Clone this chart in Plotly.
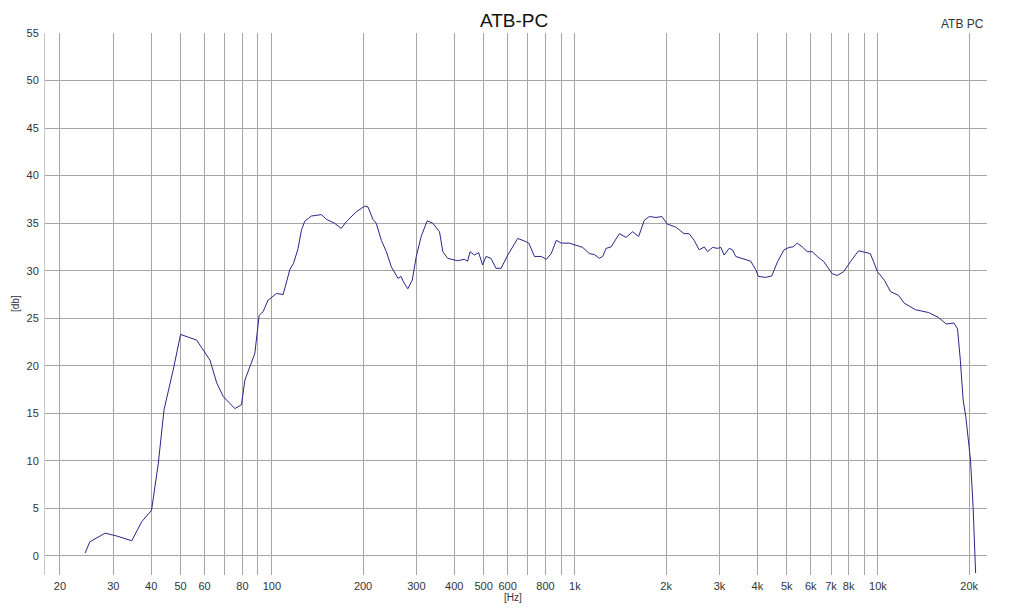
import plotly.graph_objects as go

freq_hz = [24.2, 25.1, 28.2, 30.8, 34.5, 37.2, 40.1, 42.2, 44.1, 47.3, 50.0, 56.5, 62.5, 65.8, 69.2,
           75.5, 79.4, 81.5, 87.9, 90.8, 93.6, 97.2, 103.6, 109, 114.6, 118, 122, 125.3, 128.4, 135,
           145.8, 151.5, 161, 169.5, 176, 190, 202.6, 207.7, 215.6, 221, 229.8, 238.7, 248, 260.8,
           267, 272, 281, 290.6, 299.7, 311, 325.6, 339.8, 357.5, 366.7, 380.7, 410.5, 431.6, 442.7,
           450.9, 466, 481.4, 496, 509, 528.7, 549.4, 570.7, 600.7, 647.9, 690.6, 704.7, 735.6, 774,
           804.5, 835.5, 868.4, 902, 960, 1035, 1061, 1116, 1159, 1204, 1235, 1267, 1316, 1402, 1475,
           1551, 1623, 1694, 1760, 1851, 1937, 2018, 2150, 2292, 2381, 2474, 2571, 2672, 2740, 2846,
           2956, 3031, 3108, 3229, 3311, 3395, 3570, 3805, 3953, 4033, 4264, 4463, 4662, 4900, 5091,
           5246, 5418, 5628, 5846, 6072, 6307, 6631, 7057, 7331, 7711, 8107, 8633, 8967, 9435, 9674,
           9960, 10500, 11000, 11700, 12200, 13300, 14700, 15800, 16800, 17800, 18300, 18700, 19100,
           19500, 20200, 20600, 20900, 21000]
level_db = [0.3, 1.5, 2.4, 2.1, 1.6, 3.6, 4.8, 9.7, 15.4, 19.6, 23.3, 22.7, 20.6, 18.2, 16.75,
            15.5, 15.9, 18.5, 21.3, 25.3, 25.7, 26.9, 27.6, 27.5, 30.1, 30.8, 32.3, 34.3, 35.2, 35.75,
            35.9, 35.4, 35.0, 34.45, 35.15, 36.2, 36.8, 36.7, 35.4, 35.0, 33.2, 32.0, 30.4, 29.2,
            29.4, 28.8, 28.1, 29.0, 31.5, 33.6, 35.25, 35.0, 34.1, 32.0, 31.3, 31.05, 31.2, 31.0,
            32.0, 31.65, 31.9, 30.6, 31.5, 31.3, 30.25, 30.25, 31.65, 33.4, 33.05, 32.9, 31.5, 31.5,
            31.2, 31.8, 33.2, 32.9, 32.9, 32.6, 32.45, 31.8, 31.7, 31.3, 31.5, 32.35, 32.5, 33.9, 33.5,
            34.1, 33.6, 35.3, 35.7, 35.6, 35.7, 34.9, 34.6, 33.9, 33.9, 33.2, 32.2, 32.5, 32.0, 32.45,
            32.35, 32.45, 31.65, 32.35, 32.2, 31.5, 31.3, 31.0, 30.1, 29.4, 29.3, 29.45, 30.95, 32.2, 32.45,
            32.5, 32.9, 32.5, 32.0, 32.0, 31.5, 30.95, 29.7, 29.5, 29.9, 30.95, 32.1, 32.0, 31.8, 30.95,
            29.9, 29.0, 27.8, 27.4, 26.6, 25.9, 25.6, 25.1, 24.4, 24.5, 23.9, 20.6, 16.4,
            14.6, 10.1, 5.2, 0.3, -1.8]

x_gridvals = [20, 30, 40, 50, 60, 70, 80, 90, 100, 200, 300, 400, 500, 600, 700, 800, 900,
              1000, 2000, 3000, 4000, 5000, 6000, 7000, 8000, 9000, 10000, 20000]
x_ticktext = ["20", "30", "40", "50", "60", "", "80", "", "100", "200", "300", "400", "500", "600",
              "", "800", "", "1k", "2k", "3k", "4k", "5k", "6k", "7k", "8k", "", "10k", "20k"]
y_tickvals = [0, 5, 10, 15, 20, 25, 30, 35, 40, 45, 50, 55]

FONT = "Liberation Sans, Arial, sans-serif"
GRID = "#a6a6a6"

fig = go.Figure()
fig.add_trace(go.Scatter(x=freq_hz, y=level_db, mode="lines",
                         line=dict(color="#27278a", width=1), hoverinfo="x+y",
                         showlegend=False))

fig.update_layout(
    width=1024, height=608, autosize=False,
    margin=dict(l=45, r=37, t=33, b=33, autoexpand=False),
    paper_bgcolor="white", plot_bgcolor="white",
    font=dict(family=FONT, size=11, color="#333333"),
    xaxis=dict(type="log", range=[1.2516, 4.3598], automargin=False,
               tickmode="array", tickvals=x_gridvals, ticktext=x_ticktext,
               showgrid=True, gridcolor=GRID, gridwidth=1,
               zeroline=False, showline=False,
               ticks="outside", ticklen=1, tickcolor="rgba(0,0,0,0)",
               tickfont=dict(family=FONT, size=11, color="#333333")),
    yaxis=dict(range=[-2, 55], tickmode="array", tickvals=y_tickvals, automargin=False,
               showgrid=True, gridcolor=GRID, gridwidth=1,
               zeroline=False, showline=True, linecolor="#c8c8c8", linewidth=1,
               ticks="outside", ticklen=3, tickcolor="rgba(0,0,0,0)",
               tickfont=dict(family=FONT, size=11, color="#333333")),
    annotations=[
        dict(text="ATB-PC", xref="paper", yref="paper", x=0.498, y=1, yshift=13,
             xanchor="center", yanchor="middle", showarrow=False,
             font=dict(family=FONT, size=19, color="#111111")),
        dict(text="ATB PC", xref="paper", yref="paper", x=1, y=1, xshift=-1, yshift=9,
             xanchor="right", yanchor="middle", showarrow=False,
             font=dict(family=FONT, size=12, color="#333333")),
        dict(text="[db]", xref="paper", yref="paper", x=0, y=0.5, xshift=-30,
             textangle=-90, xanchor="center", yanchor="middle", showarrow=False,
             font=dict(family=FONT, size=10, color="#333333")),
        dict(text="[Hz]", xref="paper", yref="paper", x=0.497, y=0, yshift=-22,
             xanchor="center", yanchor="middle", showarrow=False,
             font=dict(family=FONT, size=10, color="#333333")),
    ],
)

fig.write_html("out.html", config={"displayModeBar": False},
               post_script="document.body.style.margin='0';document.body.style.overflow='hidden';")
